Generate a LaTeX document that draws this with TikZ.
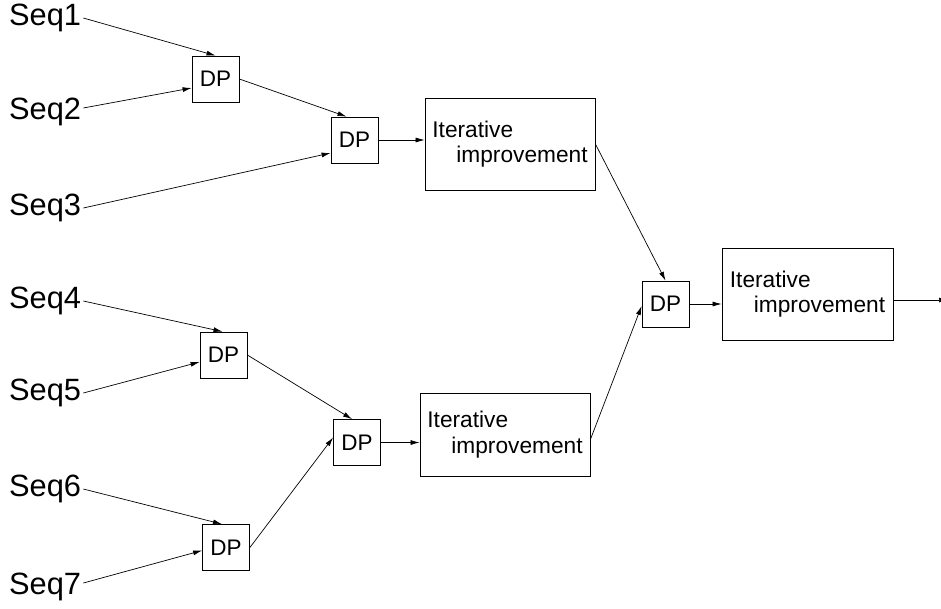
\documentclass[tikz,border=0pt]{standalone}
\usepackage{fontspec}
\setmainfont{Liberation Sans}
\usetikzlibrary{arrows.meta,calc}
\begin{document}
\begin{tikzpicture}[x=1pt,y=-1pt,
  seq/.style={anchor=west,inner sep=2pt,font=\fontsize{30.8}{34}\selectfont},
  dpbox/.style={draw,line width=0.8pt,minimum width=47pt,minimum height=46pt,inner sep=0pt,font=\fontsize{22.5}{25}\selectfont},
  itbox/.style={draw,line width=0.8pt,minimum width=170pt,align=left,inner sep=0pt,font=\fontsize{22.7}{25.5}\selectfont},
  conn/.style={line width=0.7pt,-{Latex[length=9pt,width=5pt]}}]
\useasboundingbox (0,0) rectangle (941,608);
% sequences
\node[seq] (s1) at (7,18) {Seq1};
\node[seq] (s2) at (7,112) {Seq2};
\node[seq] (s3) at (7,208) {Seq3};
\node[seq] (s4) at (7,301) {Seq4};
\node[seq] (s5) at (7,393) {Seq5};
\node[seq] (s6) at (7,489) {Seq6};
\node[seq] (s7) at (7,587) {Seq7};
% DP boxes
\node[dpbox] (dp1) at (215.5,79) {DP};
\node[dpbox] (dp2) at (354.5,140) {DP};
\node[dpbox] (dp3) at (665.5,304) {DP};
\node[dpbox] (dp4) at (223.5,355) {DP};
\node[dpbox] (dp5) at (357,442.5) {DP};
\node[dpbox] (dp6) at (226,547.5) {DP};
% iterative improvement boxes
\node[itbox,minimum height=92pt] (it1) at (510,144) {Iterative\\\hspace*{24pt}improvement};
\node[itbox,minimum height=83pt] (it2) at (505,434.5) {Iterative\\\hspace*{24pt}improvement};
\node[itbox,minimum width=171pt,minimum height=92pt] (it3) at (807.5,294) {Iterative\\\hspace*{24pt}improvement};
\coordinate (out) at (948,300);
% connectors
\draw[conn] (s1.east) -- (dp1.north);
\draw[conn] ($(s2.east)+(0,-4)$) -- ($(dp1.west)+(0,9)$);
\draw[conn] (dp1.east) -- ($(dp2.north)+(-8,0)$);
\draw[conn] (s3.east) -- ($(dp2.west)+(0,13)$);
\draw[conn] (dp2.east) -- (dp2.east -| it1.west);
\draw[conn] (it1.east) -- (dp3.north);
\draw[conn] ($(it2.east)+(0,5)$) -- ($(dp3.west)+(0,2)$);
\draw[conn] (dp3.east) -- (dp3.east -| it3.west);
\draw[conn] (out -| it3.east) -- (out);
\draw[conn] (s4.east) -- ($(dp4.north)+(-1,0)$);
\draw[conn] (s5.east) -- ($(dp4.west)+(0,7)$);
\draw[conn] (dp4.east) -- ($(dp5.north)+(-5,0)$);
\draw[conn] (s6.east) -- ($(dp6.north)+(-4,0)$);
\draw[conn] ($(s7.east)+(0,-4)$) -- ($(dp6.west)+(0,3)$);
\draw[conn] (dp6.east) -- ($(dp5.west)+(0,-5)$);
\draw[conn] (dp5.east) -- (dp5.east -| it2.west);
\end{tikzpicture}
\end{document}
